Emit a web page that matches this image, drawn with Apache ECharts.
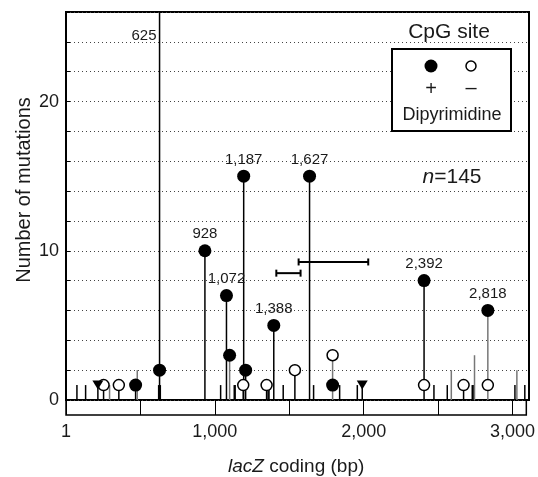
<!DOCTYPE html>
<html lang="en">
<head>
    <meta charset="UTF-8">
    <title>lacZ mutation spectrum</title>
    <script type="text/javascript" src="https://cdn.jsdelivr.net/npm/echarts@6/dist/echarts.min.js"></script>
    <style>
        html, body { margin: 0; padding: 0; background: #fff; }
    </style>
</head>
<body>
<div id="chart" style="width: 538px;height:477px;"></div>
<script type="text/javascript">
    // positions (bp) and number of mutations of every stem
    const stemPos   = [73, 131, 213, 251, 291, 353, 465, 476, 619, 625, 630, 928, 1033, 1072, 1093, 1124, 1130,
                       1184, 1187, 1200, 1340, 1350, 1356, 1388, 1451, 1529, 1627, 1654, 1781, 1828, 1946, 1979,
                       2392, 2458, 2547, 2574, 2656, 2714, 2720, 2729, 2818, 2999, 3012, 3065];
    const stemCount = [1, 1, 1, 1, 1, 1, 1, 2, 1, 32, 1, 10, 1, 7, 3, 1, 1,
                       1, 15, 2, 1, 1, 1, 5, 1, 2, 15, 1, 3, 1, 1, 1,
                       8, 1, 1, 2, 1, 1, 1, 3, 6, 1, 2, 1];
    const grayStems = [291, 476, 1093, 1781, 2574, 2729, 2818, 3012];

    // CpG sites: dipyrimidine + (filled) / - (open)
    const filledPos   = [465, 625, 928, 1072, 1093, 1187, 1200, 1388, 1627, 1781, 2392, 2818];
    const filledCount = [1, 2, 10, 7, 3, 15, 2, 5, 15, 1, 8, 6];
    const openPos     = [251, 353, 1184, 1340, 1529, 1781, 2392, 2656, 2818];
    const openCount   = [1, 1, 1, 1, 2, 3, 1, 1, 1];

    const trianglePos   = [213, 1979];
    const triangleCount = [1, 1];

    // labelled sites
    const labelSites = [625, 928, 1072, 1187, 1388, 1627, 2392, 2818];
    const labelY     = [24.4, 10, 7, 15, 5, 15, 8, 6];

    // horizontal range bars [from, to, height]
    const rangeFrom = [1405, 1554];
    const rangeTo   = [1567, 2019];
    const rangeY    = [8.5, 9.25];

    const xMax = 3093;
    const yMax = 26;
    const total = 145;

    const font = 'Liberation Sans';
    const ink = '#1a1a1a';

    function pairs(a, b) {
        return a.map((x, i) => [x, b[i]]);
    }

    let option = {
        animation: false,
        textStyle: { fontFamily: font },
        grid: [
            { left: 66, right: 9, top: 12, bottom: 77, show: true, borderColor: '#000', borderWidth: 2 },
            { left: 66, right: 9, top: 400, height: 15, show: true, borderColor: '#000', borderWidth: 1.5 }
        ],
        xAxis: [
            {
                type: 'value', gridIndex: 0, min: 0, max: xMax,
                axisLine: { show: false }, axisTick: { show: false },
                axisLabel: { show: false }, splitLine: { show: false }
            },
            {
                type: 'value', gridIndex: 1, min: 0, max: xMax, interval: 500,
                axisLine: { show: false }, axisTick: { show: false },
                splitLine: { show: true, lineStyle: { color: '#000', width: 1 } },
                axisLabel: {
                    margin: 8, fontSize: 18, color: ink, fontFamily: font,
                    formatter: function (v) {
                        if (v === 0) return '1';
                        if (v % 1000 === 0) return v.toLocaleString('en-US');
                        return '';
                    }
                },
                name: '{i|lacZ} coding (bp)',
                nameLocation: 'middle',
                nameGap: 42,
                nameTextStyle: {
                    fontSize: 19, color: ink, fontFamily: font,
                    rich: { i: { fontStyle: 'italic', fontSize: 19, color: ink, fontFamily: font } }
                }
            }
        ],
        yAxis: [
            {
                type: 'value', gridIndex: 0, min: 0, max: yMax, interval: 2,
                axisLine: { show: true, lineStyle: { color: '#000', width: 2 } },
                axisTick: { show: true, inside: true, length: 4, lineStyle: { color: '#000' } },
                splitLine: { show: true, lineStyle: { color: '#444', type: [1, 3], width: 1 } },
                axisLabel: {
                    margin: 7, fontSize: 18, color: ink, fontFamily: font,
                    formatter: function (v) { return v % 10 === 0 ? String(v) : ''; }
                }
            },
            { type: 'value', gridIndex: 1, min: 0, max: 1, show: false }
        ],
        series: [
            {
                name: 'stems',
                type: 'custom',
                xAxisIndex: 0, yAxisIndex: 0,
                clip: true,
                renderItem: function (params, api) {
                    let x = api.value(0);
                    let p0 = api.coord([x, 0]);
                    let p1 = api.coord([x, Math.min(api.value(1), yMax)]);
                    return {
                        type: 'line',
                        shape: { x1: p0[0], y1: p0[1], x2: p1[0], y2: p1[1] },
                        style: { stroke: grayStems.indexOf(x) >= 0 ? '#777' : '#000', lineWidth: 1.5 }
                    };
                },
                data: pairs(stemPos, stemCount),
                z: 2
            },
            {
                name: 'ranges',
                type: 'custom',
                xAxisIndex: 0, yAxisIndex: 0,
                renderItem: function (params, api) {
                    let a = api.coord([api.value(0), api.value(2)]);
                    let b = api.coord([api.value(1), api.value(2)]);
                    let st = { stroke: '#000', lineWidth: 2 };
                    return {
                        type: 'group',
                        children: [
                            { type: 'line', shape: { x1: a[0], y1: a[1], x2: b[0], y2: b[1] }, style: st },
                            { type: 'line', shape: { x1: a[0], y1: a[1] - 3.5, x2: a[0], y2: a[1] + 3.5 }, style: st },
                            { type: 'line', shape: { x1: b[0], y1: b[1] - 3.5, x2: b[0], y2: b[1] + 3.5 }, style: st }
                        ]
                    };
                },
                data: rangeFrom.map((f, i) => [f, rangeTo[i], rangeY[i]]),
                z: 3
            },
            {
                name: 'CpG, dipyrimidine -',
                type: 'scatter',
                xAxisIndex: 0, yAxisIndex: 0,
                symbol: 'circle',
                symbolSize: 11,
                itemStyle: { color: '#fff', borderColor: '#000', borderWidth: 1.5, opacity: 1 },
                data: pairs(openPos, openCount),
                z: 4
            },
            {
                name: 'CpG, dipyrimidine +',
                type: 'scatter',
                xAxisIndex: 0, yAxisIndex: 0,
                symbol: 'circle',
                symbolSize: 13,
                itemStyle: { color: '#000', opacity: 1 },
                data: pairs(filledPos, filledCount),
                z: 5
            },
            {
                name: 'triangles',
                type: 'scatter',
                xAxisIndex: 0, yAxisIndex: 0,
                symbol: 'triangle',
                symbolRotate: 180,
                symbolSize: [11, 9],
                itemStyle: { color: '#000', opacity: 1 },
                data: pairs(trianglePos, triangleCount),
                z: 5
            },
            {
                name: 'labels',
                type: 'scatter',
                xAxisIndex: 0, yAxisIndex: 0,
                symbolSize: 0,
                silent: true,
                itemStyle: { opacity: 1 },
                label: {
                    show: true,
                    position: 'top',
                    distance: 9,
                    fontSize: 15,
                    color: ink,
                    fontFamily: font,
                    formatter: function (p) { return p.value[0].toLocaleString('en-US'); }
                },
                data: labelSites.map(function (s, i) {
                    let d = { value: [s, labelY[i]] };
                    if (i === 0) d.label = { position: 'left', distance: 3 };
                    return d;
                }),
                z: 6
            }
        ],
        graphic: [
            {
                type: 'text',
                x: 24, y: 190, rotation: Math.PI / 2,
                style: { text: 'Number of mutations', x: 0, y: 0, align: 'center', verticalAlign: 'middle',
                    font: '20px "' + font + '"', fill: ink },
                z: 10
            },
            {
                type: 'text',
                style: { text: 'CpG site', x: 449, y: 32, align: 'center', verticalAlign: 'middle',
                    font: '21px "' + font + '"', fill: ink },
                z: 10
            },
            {
                type: 'rect',
                shape: { x: 392, y: 49, width: 119, height: 82 },
                style: { fill: '#fff', stroke: '#000', lineWidth: 2 },
                z: 10
            },
            {
                type: 'circle', shape: { cx: 431, cy: 66, r: 6.5 },
                style: { fill: '#000' }, z: 11
            },
            {
                type: 'circle', shape: { cx: 471, cy: 66, r: 5 },
                style: { fill: '#fff', stroke: '#000', lineWidth: 1.5 }, z: 11
            },
            {
                type: 'text',
                style: { text: '+', x: 431, y: 89, align: 'center', verticalAlign: 'middle',
                    font: '20px "' + font + '"', fill: ink },
                z: 11
            },
            {
                type: 'text',
                style: { text: '\u2013', x: 471, y: 88, align: 'center', verticalAlign: 'middle',
                    font: '20px "' + font + '"', fill: ink },
                z: 11
            },
            {
                type: 'text',
                style: { text: 'Dipyrimidine', x: 452, y: 115, align: 'center', verticalAlign: 'middle',
                    font: '18px "' + font + '"', fill: ink },
                z: 11
            },
            {
                type: 'text',
                style: {
                    text: '{i|n}=' + total, x: 452, y: 177, align: 'center', verticalAlign: 'middle',
                    font: '21px "' + font + '"', fill: ink,
                    rich: { i: { fontStyle: 'italic', fontSize: 21, fontFamily: font, fill: ink } }
                },
                z: 11
            }
        ]
    };

    echarts.init(document.getElementById('chart')).setOption(option);
</script>
</body>
</html>
